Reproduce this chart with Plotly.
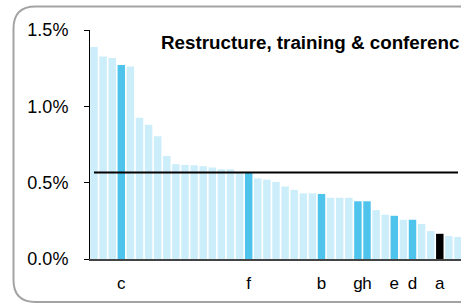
import plotly.graph_objects as go

# Data (percent)
values = [1.388, 1.327, 1.316, 1.270, 1.261, 0.926, 0.880, 0.804, 0.675, 0.621,
          0.616, 0.614, 0.608, 0.600, 0.588, 0.588, 0.566, 0.566, 0.528, 0.520,
          0.505, 0.475, 0.453, 0.430, 0.430, 0.426, 0.401, 0.401, 0.401, 0.378,
          0.378, 0.320, 0.290, 0.283, 0.257, 0.257, 0.229, 0.183, 0.165, 0.150,
          0.144]
labels = ["", "", "", "c", "", "", "", "", "", "",
          "", "", "", "", "", "", "", "f", "", "",
          "", "", "", "", "", "b", "", "", "", "g",
          "h", "", "", "e", "", "d", "", "", "a", "",
          ""]
kinds = ["n", "n", "n", "h", "n", "n", "n", "n", "n", "n",
         "n", "n", "n", "n", "n", "n", "n", "h", "n", "n",
         "n", "n", "n", "n", "n", "h", "n", "n", "n", "h",
         "h", "n", "n", "h", "n", "h", "n", "n", "s", "n",
         "n"]
average = 0.567
y_ticks = [0.0, 0.5, 1.0, 1.5]
y_tick_text = ["0.0%", "0.5%", "1.0%", "1.5%"]
title_text = "Restructure, training & conferenc"

palette = {"n": "#ccedfa", "h": "#4ec3eb", "s": "#000000"}
positions = list(range(1, len(values) + 1))
colors = [palette[k] for k in kinds]

FONT = "Arial"
W, H = 461, 304
L, R, T, B = 90, 0, 29.5, 45
pw = W - L - R
ph = H - T - B


def px(x):
    return (x - L) / pw


def py(y):
    return (H - B - y) / ph


fig = go.Figure()
fig.add_trace(go.Bar(x=positions, y=values, marker=dict(color=colors, line=dict(width=0)),
                     width=0.82, hoverinfo="skip"))
fig.add_trace(go.Scatter(x=positions, y=[average] * len(positions), mode="lines",
                         line=dict(color="#000000", width=2), hoverinfo="skip"))

# rounded frame (partly off-canvas on the right)
x0, y0, y1, r = 13.5, 6, 302, 22
xr = 520
path = (f"M {px(xr)} {py(y0)} L {px(x0 + r)} {py(y0)} "
        f"Q {px(x0)} {py(y0)} {px(x0)} {py(y0 + r)} "
        f"L {px(x0)} {py(y1 - r)} Q {px(x0)} {py(y1)} {px(x0 + r)} {py(y1)} "
        f"L {px(xr)} {py(y1)}")
fig.add_shape(type="path", path=path, xref="paper", yref="paper",
              line=dict(color="#a3a3a3", width=2), layer="below")

fig.add_annotation(text=f"<b>{title_text}</b>", xref="paper", yref="paper",
                   x=px(159), y=py(42), xanchor="left", yanchor="middle",
                   showarrow=False, font=dict(size=18.8, color="#000000", family=FONT))

fig.update_layout(
    width=W, height=H,
    margin=dict(l=L, r=R, t=T, b=B, pad=0),
    paper_bgcolor="white", plot_bgcolor="white",
    showlegend=False,
    font=dict(family=FONT, color="#000000"),
    xaxis=dict(range=[0.56, 41.33], tickmode="array", tickvals=positions, ticktext=labels,
               tickangle=0,
               showgrid=False, zeroline=False, showline=True, linecolor="#444444", linewidth=1.5,
               ticks="", tickfont=dict(size=17, family=FONT), ticklabelstandoff=8),
    yaxis=dict(range=[0, 1.5], tickmode="array", tickvals=y_ticks, ticktext=y_tick_text,
               showgrid=False, zeroline=False, showline=True, linecolor="#000000", linewidth=1,
               ticks="outside", ticklen=5, tickcolor="#000000",
               tickfont=dict(size=18, family=FONT), ticklabelstandoff=12),
)

fig.write_html("out.html", config={"displayModeBar": False},
               post_script="document.body.style.margin='0';document.body.style.overflow='hidden';")
